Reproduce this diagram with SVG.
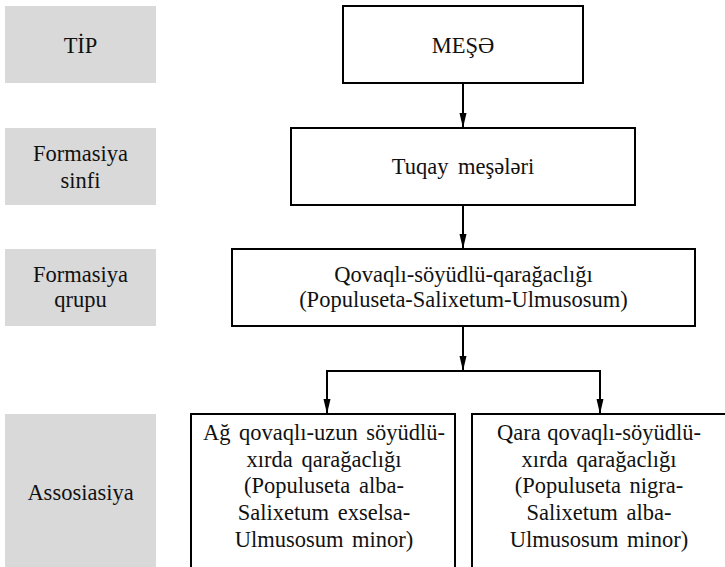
<svg xmlns="http://www.w3.org/2000/svg" width="725" height="567" viewBox="0 0 725 567">
  <style>
    .lvl { fill: #d9d9d9; stroke: none; }
    .box { fill: #ffffff; stroke: #000000; stroke-width: 2; }
    .txt { font-family: "Liberation Serif", "Times New Roman", Times, serif; font-size: 22.5px; fill: #111111; text-anchor: middle; }
    .edge { fill: none; stroke: #000000; stroke-width: 2; }
  </style>
  <defs>
    <marker id="arrow" markerUnits="userSpaceOnUse" markerWidth="16" markerHeight="8" refX="15" refY="3.5" orient="auto">
      <path d="M0,0 L15,3.5 L0,7 Z" fill="#000000"/>
    </marker>
  </defs>

  <rect width="725" height="567" fill="#ffffff"/>

  <!-- rank labels (left column) -->
  <g id="level-tip">
    <rect class="lvl" x="5" y="6" width="151" height="77"/>
    <text class="txt" x="80.5" y="53">TİP</text>
  </g>
  <g id="level-formasiya-sinfi">
    <rect class="lvl" x="5" y="128" width="151" height="77"/>
    <text class="txt" x="80.5" y="161">Formasiya</text>
    <text class="txt" x="80.5" y="187.5">sinfi</text>
  </g>
  <g id="level-formasiya-qrupu">
    <rect class="lvl" x="5" y="249" width="151" height="77"/>
    <text class="txt" x="80.5" y="282">Formasiya</text>
    <text class="txt" x="80.5" y="307">qrupu</text>
  </g>
  <g id="level-assosiasiya">
    <rect class="lvl" x="5" y="414" width="151" height="170"/>
    <text class="txt" x="80.5" y="500">Assosiasiya</text>
  </g>

  <!-- classification nodes -->
  <g id="node-mese">
    <rect class="box" x="343" y="6" width="240" height="77"/>
    <text class="txt" x="463" y="53">MEŞƏ</text>
  </g>
  <g id="node-tuqay">
    <rect class="box" x="291" y="128" width="344" height="77"/>
    <text class="txt" x="463" y="174" word-spacing="4">Tuqay meşələri</text>
  </g>
  <g id="node-qovaqli">
    <rect class="box" x="232" y="249" width="463" height="77"/>
    <text class="txt" x="463.5" y="282">Qovaqlı-söyüdlü-qarağaclığı</text>
    <text class="txt" x="463.5" y="307">(Populuseta-Salixetum-Ulmusosum)</text>
  </g>
  <g id="node-ag-qovaqli">
    <rect class="box" x="191" y="414" width="264" height="170"/>
    <text class="txt" x="324" y="440" word-spacing="3">Ağ qovaqlı-uzun söyüdlü-</text>
    <text class="txt" x="324" y="466.5" word-spacing="3">xırda qarağaclığı</text>
    <text class="txt" x="324" y="493" word-spacing="3">(Populuseta alba-</text>
    <text class="txt" x="324" y="520" word-spacing="3">Salixetum exselsa-</text>
    <text class="txt" x="324" y="546.5" word-spacing="3">Ulmusosum minor)</text>
  </g>
  <g id="node-qara-qovaqli">
    <rect class="box" x="472" y="414" width="264" height="170"/>
    <text class="txt" x="599" y="440" word-spacing="1">Qara qovaqlı-söyüdlü-</text>
    <text class="txt" x="599" y="466.5" word-spacing="3">xırda qarağaclığı</text>
    <text class="txt" x="599" y="493" word-spacing="3">(Populuseta nigra-</text>
    <text class="txt" x="599" y="520" word-spacing="3">Salixetum alba-</text>
    <text class="txt" x="599" y="546.5" word-spacing="3">Ulmusosum minor)</text>
  </g>

  <!-- connectors -->
  <g id="connectors">
    <path class="edge" d="M463,83 V128" marker-end="url(#arrow)"/>
    <path class="edge" d="M463,205 V249" marker-end="url(#arrow)"/>
    <path class="edge" d="M463,326 V371" marker-end="url(#arrow)"/>
    <path class="edge" d="M326,371 H601"/>
    <path class="edge" d="M327,371 V414" marker-end="url(#arrow)"/>
    <path class="edge" d="M600,371 V414" marker-end="url(#arrow)"/>
  </g>
</svg>
